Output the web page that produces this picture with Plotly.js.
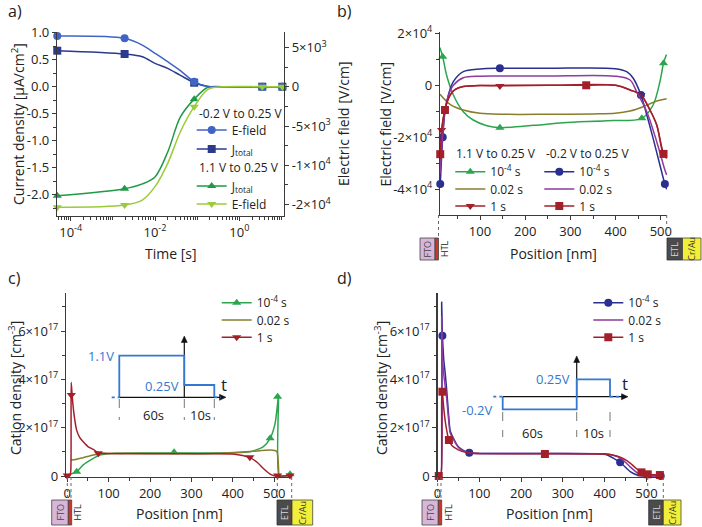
<!DOCTYPE html>
<html><head><meta charset="utf-8">
<script src="https://cdn.plot.ly/plotly-3.0.1.min.js"></script>
<style>html,body{margin:0;padding:0;background:#fff}</style>
</head><body><div id="chart" style="width:702px;height:527px"></div>
<script>
// ================= DATA =================
// ---- panel a: transients vs time ----
const aTime = [4.8e-5, 1.9e-3, 5e-3, 0.01, 0.02, 0.04, 0.085, 0.18, 0.4, 3.5, 11];
const aBlueEfield = [6450, 6160, 5300, 4250, 3180, 2050, 640, 30, 0, 0, 0];        // V/cm, -0.2V->0.25V
const aBlueJ = [0.667, 0.606, 0.556, 0.433, 0.34, 0.21, 0.074, 0.005, 0, 0, 0];      // uA/cm2
const aGreenJ = [-2.02, -1.89, -1.80, -1.67, -1.21, -0.56, -0.23, -0.01, 0, 0, 0];   // uA/cm2, 1.1V->0.25V
const aGreenEfield = [-15350, -15050, -14420, -12720, -9750, -5730, -2545, -330, 0, 0, 0];
const aMarkTime = [4.8e-5, 1.9e-3, 0.085, 3.5, 10.5];
const aBlueEfieldMk = [6450, 6160, 640, 0, 0];
const aBlueJMk = [0.667, 0.606, 0.074, 0, 0];
const aGreenJMk = [-2.02, -1.89, -0.23, 0, 0];
const aGreenEfieldMk = [-15350, -15050, -2545, 0, 0];
const aXTickVals = [1e-4, 1e-2, 1];
const aXTickText = ['10<sup>-4</sup>', '10<sup>-2</sup>', '10<sup>0</sup>'];
const aYTickVals = [-2, -1.5, -1, -0.5, 0, 0.5, 1];
const aYTickText = ['-2.0', '-1.5', '-1.0', '-0.5', '0.0', '0.5', '1.0'];
const aY2TickVals = [5000, 0, -5000, -10000, -15000];
const aY2TickText = ['5×10<sup>3</sup>', '0', '-5×10<sup>3</sup>', '-1×10<sup>4</sup>', '-2×10<sup>4</sup>'];

// ---- panel b: electric field profiles ----
const bGreenX = [11.5, 13, 17.5, 26, 41, 63, 85, 115, 144, 220, 284, 380, 458, 483, 498, 506, 512.5];
const bGreenY = [14500, 13600, 11000, 3960, -3730, -10150, -13350, -15540, -16300, -15400, -14400, -13600, -12700, -7580, 1380, 8500, 11800];
const bGreenMkX = [17.5, 144, 458, 506];
const bGreenMkY = [11000, -16300, -12700, 8500];
const bOliveX = [11.5, 33.6, 63, 100, 150, 250, 350, 399, 432, 461, 491, 513];
const bOliveY = [-3460, -7300, -9500, -10770, -11150, -11150, -11000, -10770, -9880, -8230, -6040, -5200];
const bRedTX = [11.5, 13, 15, 20, 25, 34, 45, 63, 100, 144, 250, 400, 432, 456, 476, 491, 505, 512.5];
const bRedTY = [-30000, -25000, -17200, -11500, -7500, -3800, -1600, -500, -100, -200, 0, 0, -1800, -3730, -9500, -15300, -26150, -27800];
const bRedTMkX = [15, 144, 456];
const bRedTMkY = [-17200, -270, -3730];
const bBlueX = [11.5, 12, 17.5, 22.5, 30, 41, 63, 100, 144, 250, 399, 424.5, 439, 456, 469, 483, 498, 509, 513];
const bBlueY = [-39000, -38000, -20000, -10150, -3730, 1380, 5230, 6270, 6540, 6540, 6400, 5230, 2690, -3730, -11420, -20400, -30650, -38000, -40000];
const bBlueMkX = [12, 17.5, 144, 456, 509];
const bBlueMkY = [-38000, -20000, 6540, -3730, -38000];
const bPurpleX = [11.5, 17.5, 22.5, 30, 41, 63, 100, 144, 250, 399, 432, 446.5, 469, 491, 509, 513];
const bPurpleY = [-34000, -19000, -10000, -4000, 0, 2900, 3500, 3580, 3580, 3500, 2040, -2460, -10150, -21700, -32600, -34500];
const bRedSX = [11.5, 12, 15, 18, 22.5, 28, 35, 45, 63, 100, 200, 335, 400, 432, 456, 476, 491, 506, 513];
const bRedSY = [-28500, -26500, -19000, -13500, -9500, -6000, -3500, -1700, -500, -100, 0, 0, 0, -1800, -3730, -9500, -15300, -26400, -28200];
const bRedSMkX = [12, 22.5, 335, 506];
const bRedSMkY = [-26500, -9500, 0, -26400];
const bXTickVals = [100, 200, 300, 400, 500];
const bYTickVals = [-40000, -20000, 0, 20000];
const bYTickText = ['-4×10<sup>4</sup>', '-2×10<sup>4</sup>', '0', '2×10<sup>4</sup>'];

// ---- panel c: cation density, 1.1V -> 0.25V (units of 1e17 cm^-3) ----
const cGreenX = [-1, 5, 12, 22.7, 38.6, 60, 79, 119, 200, 300, 400, 441, 473, 490, 502, 508, 510.5, 511.5, 525, 538];
const cGreenY = [0.05, 0.06, 0.1, 0.18, 0.46, 0.7, 0.87, 0.94, 0.95, 0.95, 0.96, 1.0, 1.21, 1.56, 2.18, 3.0, 3.38, 0.0, 0.0, 0.04];
const cGreenMkX = [22.7, 258, 490, 508, 538];
const cGreenMkY = [0.18, 0.98, 1.56, 3.28, 0.07];
const cOliveX = [9, 20, 38.6, 63, 90, 150, 250, 350, 441, 490, 506, 509.5, 511];
const cOliveY = [0.66, 0.68, 0.76, 0.87, 0.93, 0.94, 0.93, 0.93, 1.01, 1.08, 1.02, 0.6, 0.0];
const cRedX = [0, 6, 8.5, 9.5, 12, 16, 22.7, 30, 38.6, 50, 63, 75, 100, 200, 300, 400, 441, 460, 473, 490, 500, 508, 520, 538];
const cRedY = [0.0, 0.0, 0.2, 3.88, 3.3, 2.6, 1.9, 1.6, 1.42, 1.22, 1.1, 0.96, 0.93, 0.92, 0.92, 0.91, 0.76, 0.55, 0.32, 0.08, 0.01, 0.0, 0.0, 0.02];
const cRedMkX = [0, 9.8, 75, 441, 508, 538];
const cRedMkY = [0.02, 3.35, 0.94, 0.78, 0.02, 0.02];

// ---- panel d: cation density, -0.2V -> 0.25V (units of 1e17 cm^-3) ----
const dBlueX = [3, 8.5, 10, 11.7, 15, 18.5, 22, 30, 40, 50, 63, 76, 100, 200, 300, 380, 406, 437, 461, 477, 490, 510, 534];
const dBlueY = [0, 0, 7.2, 5.81, 4.8, 4.25, 3.56, 1.9, 1.5, 1.21, 1.05, 0.96, 0.93, 0.93, 0.93, 0.92, 0.87, 0.57, 0.18, 0.04, 0, 0, 0];
const dBlueMkX = [11.7, 76, 437, 534];
const dBlueMkY = [5.81, 0.96, 0.57, 0.0];
const dPurpleX = [3, 8.5, 10, 11.7, 15, 22, 30, 40, 50, 63, 76, 100, 300, 400, 420, 440, 461, 480, 495, 510, 534];
const dPurpleY = [0, 0, 6.6, 5.0, 4.2, 3.2, 1.8, 1.45, 1.18, 1.03, 0.95, 0.93, 0.93, 0.92, 0.86, 0.72, 0.38, 0.1, 0.01, 0, 0];
const dRedX = [3, 8.5, 10, 11.7, 15, 20, 27.3, 35, 50, 63, 76, 100, 257, 400, 429, 445, 461, 475, 488, 503, 520, 532];
const dRedY = [0, 0, 3.6, 3.49, 2.8, 2.1, 1.49, 1.25, 1.08, 1.0, 0.95, 0.93, 0.92, 0.91, 0.83, 0.72, 0.53, 0.32, 0.15, 0.07, 0.05, 0.04];
const dRedMkX = [3, 11.7, 27.3, 257, 488, 503, 532];
const dRedMkY = [0, 3.49, 1.49, 0.91, 0.15, 0.07, 0.04];

const posTickVals = [0, 100, 200, 300, 400, 500];
const denTickVals = [0, 2, 4, 6];
const denTickText = ['0', '2×10<sup>17</sup>', '4×10<sup>17</sup>', '6×10<sup>17</sup>'];

// ================= STYLE / LAYOUT =================
const W = 702, H = 527;
const px = v => v / W;
const py = v => 1 - v / H;
const FONT = 'Open Sans, Noto Sans, DejaVu Sans, sans-serif';
const TXT = '#222';
const COL = {blueE:'#4064c6', navy:'#2c3a8e', green:'#1f9a47', lime:'#9ccb3a',
             green2:'#2ca54e', olive:'#8a7d2c', red:'#a3202b', blue:'#2b2f8f', purple:'#8e3a9e',
             inset:'#3478d0'};

const legends = {};
let legCount = 0;
function legendAt(x, y) {
  legCount += 1;
  const key = legCount === 1 ? 'legend' : 'legend' + legCount;
  legends[key] = {x:px(x), y:py(y), xanchor:'left', yanchor:'middle', bgcolor:'rgba(0,0,0,0)', borderwidth:0,
    font:{size:12, family:FONT, color:TXT}, tracegroupgap:0, itemwidth:30};
  return key;
}

const traces = [];
function series(o) {
  const line = {color:o.color, width:1.5, shape:'spline', smoothing:o.smooth ?? 0.9};
  traces.push({type:'scatter', x:o.cx, y:o.cy, xaxis:o.xa, yaxis:o.ya, mode:'lines',
    line:line, showlegend:false, hoverinfo:'skip'});
  if (o.symbol && o.mx) traces.push({type:'scatter', x:o.mx, y:o.my, xaxis:o.xa, yaxis:o.ya,
    mode:'markers', marker:{symbol:o.symbol, size:8, color:o.color}, cliponaxis:false,
    showlegend:false, hoverinfo:'skip'});
  const leg = {type:'scatter', x:[null], y:[null], xaxis:o.xa, yaxis:o.ya,
    mode:o.symbol ? 'lines+markers' : 'lines', line:{color:o.color, width:1.5},
    name:o.name, legend:legendAt(o.lx - 5, o.ly), showlegend:true, hoverinfo:'skip'};
  if (o.symbol) leg.marker = {symbol:o.symbol, size:8, color:o.color};
  traces.push(leg);
}

// panel a
series({xa:'x', ya:'y2', cx:aTime, cy:aBlueEfield, mx:aMarkTime, my:aBlueEfieldMk, color:COL.blueE, symbol:'circle',
  name:'E-field', lx:196.7, ly:130});
series({xa:'x', ya:'y', cx:aTime, cy:aBlueJ, mx:aMarkTime, my:aBlueJMk, color:COL.navy, symbol:'square',
  name:'J<sub>total</sub>', lx:196.7, ly:149});
series({xa:'x', ya:'y', cx:aTime, cy:aGreenJ, mx:aMarkTime, my:aGreenJMk, color:COL.green, symbol:'triangle-up',
  name:'J<sub>total</sub>', lx:196.7, ly:186});
series({xa:'x', ya:'y2', cx:aTime, cy:aGreenEfield, mx:aMarkTime, my:aGreenEfieldMk, color:COL.lime, symbol:'triangle-down',
  name:'E-field', lx:196.7, ly:204});

// panel b
series({xa:'x2', ya:'y3', cx:bGreenX, cy:bGreenY, mx:bGreenMkX, my:bGreenMkY, color:COL.green2, symbol:'triangle-up',
  name:'10<sup>-4</sup> s', lx:455.3, ly:171.7});
series({xa:'x2', ya:'y3', cx:bOliveX, cy:bOliveY, color:COL.olive, name:'0.02 s', lx:455.3, ly:189});
series({xa:'x2', ya:'y3', cx:bRedTX, cy:bRedTY, mx:bRedTMkX, my:bRedTMkY, color:COL.red, symbol:'triangle-down',
  name:'1 s', lx:455.3, ly:206});
series({xa:'x2', ya:'y3', cx:bBlueX, cy:bBlueY, mx:bBlueMkX, my:bBlueMkY, color:COL.blue, symbol:'circle',
  name:'10<sup>-4</sup> s', lx:544.3, ly:171.7});
series({xa:'x2', ya:'y3', cx:bPurpleX, cy:bPurpleY, color:COL.purple, name:'0.02 s', lx:544.3, ly:189});
series({xa:'x2', ya:'y3', cx:bRedSX, cy:bRedSY, mx:bRedSMkX, my:bRedSMkY, color:COL.red, symbol:'square',
  name:'1 s', lx:544.3, ly:206});

// panel c
series({xa:'x3', ya:'y4', cx:cGreenX, cy:cGreenY, mx:cGreenMkX, my:cGreenMkY, color:COL.green2, symbol:'triangle-up',
  name:'10<sup>-4</sup> s', lx:221.7, ly:302.7, smooth:0.6});
series({xa:'x3', ya:'y4', cx:cOliveX, cy:cOliveY, color:COL.olive, name:'0.02 s', lx:221.7, ly:320, smooth:0.6});
series({xa:'x3', ya:'y4', cx:cRedX, cy:cRedY, mx:cRedMkX, my:cRedMkY, color:COL.red, symbol:'triangle-down',
  name:'1 s', lx:221.7, ly:337.3, smooth:0.6});

// panel d
series({xa:'x4', ya:'y5', cx:dBlueX, cy:dBlueY, mx:dBlueMkX, my:dBlueMkY, color:COL.blue, symbol:'circle',
  name:'10<sup>-4</sup> s', lx:593.3, ly:302.7, smooth:0.3});
series({xa:'x4', ya:'y5', cx:dPurpleX, cy:dPurpleY, color:COL.purple, name:'0.02 s', lx:593.3, ly:320, smooth:0.3});
series({xa:'x4', ya:'y5', cx:dRedX, cy:dRedY, mx:dRedMkX, my:dRedMkY, color:COL.red, symbol:'square',
  name:'1 s', lx:593.3, ly:337.3, smooth:0.3});

const AXC = '#3a3a3a';
const axBase = {showline:true, linecolor:AXC, linewidth:1.1, ticks:'outside', ticklen:4, tickcolor:AXC,
  tickwidth:1, tickfont:{size:13, color:TXT, family:FONT}, showgrid:false, zeroline:false, fixedrange:true};
const minorLin = d => ({dtick:d, tick0:0, ticks:'outside', ticklen:2.5, tickcolor:AXC, tickwidth:1, showgrid:false});

const shapes = [];
const annotations = [];
function txt(x, y, text, o = {}) {
  annotations.push({xref:'paper', yref:'paper', x:px(x), y:py(y), text:text, showarrow:false,
    font:{size:o.size || 14, family:FONT, color:o.color || TXT}, xanchor:o.xa || 'center', yanchor:'middle',
    textangle:o.angle || 0});
}
function rect(x0, x1, y0, y1, fill, lc) {
  shapes.push({type:'rect', xref:'paper', yref:'paper', x0:px(x0), x1:px(x1), y0:py(y1), y1:py(y0),
    fillcolor:fill, line:{color:lc || '#333', width:0.8}});
}
function seg(x0, y0, x1, y1, color, width, dash) {
  shapes.push({type:'line', xref:'paper', yref:'paper', x0:px(x0), y0:py(y0), x1:px(x1), y1:py(y1),
    line:{color:color, width:width, dash:dash || 'solid'}});
}
function pathOf(pts, close) {
  return pts.map((p, i) => (i ? 'L' : 'M') + px(p[0]).toFixed(5) + ',' + py(p[1]).toFixed(5)).join(' ') + (close ? ' Z' : '');
}
function arrowH(x0, x1, y) {   // horizontal arrow pointing right
  seg(x0, y, x1 - 5, y, '#111', 1.2);
  shapes.push({type:'path', xref:'paper', yref:'paper', path:pathOf([[x1, y], [x1 - 6.5, y - 3], [x1 - 6.5, y + 3]], true),
    fillcolor:'#111', line:{color:'#111', width:0.5}});
}
function arrowV(x, y0, y1) {   // vertical arrow pointing up
  seg(x, y0, x, y1 + 5, '#111', 1.2);
  shapes.push({type:'path', xref:'paper', yref:'paper', path:pathOf([[x, y1], [x - 3, y1 + 6.5], [x + 3, y1 + 6.5]], true),
    fillcolor:'#111', line:{color:'#111', width:0.5}});
}
function layers(fto0, fto1, htl1, htlTxt, etl0, etl1, cr1, y0, y1) {
  rect(fto0, fto1, y0, y1, '#d8b6d9', '#444');
  rect(fto1, htl1, y0, y1, '#c8362c', '#444');
  rect(etl0, etl1, y0, y1, '#4b4b4b', '#333');
  rect(etl1, cr1, y0, y1, '#f2ef3a', '#444');
  const ym = (y0 + y1) / 2;
  txt((fto0 + fto1) / 2, ym, 'FTO', {size:9, color:'#444', angle:-90});
  txt(htlTxt, ym, 'HTL', {size:9, color:'#222', angle:-90});
  txt((etl0 + etl1) / 2, ym, 'ETL', {size:9, color:'#d8d8d8', angle:-90});
  txt((etl1 + cr1) / 2, ym, 'Cr/Au', {size:9, color:'#333', angle:-90});
}

// legend group headings
txt(196.7, 113.3, '-0.2 V to 0.25 V', {xa:'left', size:12});
txt(196.7, 167.7, '1.1 V to 0.25 V', {xa:'left', size:12});
txt(454.3, 153.3, '1.1 V to 0.25 V', {xa:'left', size:12});
txt(544.3, 153.3, '-0.2 V to 0.25 V', {xa:'left', size:12});

// panel labels
txt(15, 11, 'a)', {size:16}); txt(344, 11, 'b)', {size:16});
txt(14, 278, 'c)', {size:16}); txt(344, 278, 'd)', {size:16});

// axis titles
txt(18, 124, 'Current density [μA/cm<sup>2</sup>]', {angle:-90});
txt(343, 124, 'Electric field [V/cm]', {angle:-90});
txt(170.5, 254, 'Time [s]');
txt(384.5, 124, 'Electric field [V/cm]', {angle:-90});
txt(553, 254, 'Position [nm]');
txt(15, 388, 'Cation density [cm<sup>-3</sup>]', {angle:-90});
txt(180, 513, 'Position [nm]');
txt(381, 388, 'Cation density [cm<sup>-3</sup>]', {angle:-90});
txt(549, 513, 'Position [nm]');

// layer stacks + dotted guides
layers(420, 435, 438.5, 445, 667, 682.5, 701, 238, 260);
seg(438.5, 215, 438.5, 238, '#666', 1, 'dot');
seg(666.7, 215, 666.7, 238, '#666', 1, 'dot');
layers(51.7, 68.3, 71.7, 77, 277, 292, 312.7, 500, 525);
seg(67.3, 477, 67.3, 500, '#666', 1, 'dot'); seg(71, 477, 71, 500, '#666', 1, 'dot');
seg(277.3, 477, 277.3, 500, '#666', 1, 'dot'); seg(291.7, 477, 291.7, 500, '#666', 1, 'dot');
layers(422, 438.3, 441.7, 448, 648.7, 663.3, 681, 500, 525);
seg(437.7, 477, 437.7, 500, '#666', 1, 'dot'); seg(441, 477, 441, 500, '#666', 1, 'dot');
seg(647.7, 477, 647.7, 500, '#666', 1, 'dot'); seg(663.3, 477, 663.3, 500, '#666', 1, 'dot');

// inset c: 1.1V (60 s) -> 0.25V (10 s)
arrowH(119.3, 226, 397.3);
arrowV(184.3, 397.3, 336);
shapes.push({type:'path', xref:'paper', yref:'paper', line:{color:COL.inset, width:1.8},
  path:pathOf([[119.3,397.3],[119.3,355.7],[184.3,355.7],[184.3,385],[214.3,385],[214.3,397.3]])});
seg(111.7, 397.3, 119.3, 397.3, COL.inset, 1.8, 'dot');
seg(214.3, 397.3, 221, 397.3, COL.inset, 1.8, 'dot');
[119.3, 184.3, 214.3].forEach(x => seg(x, 399, x, 420, '#777', 1, 'dash'));
txt(116, 355.7, '1.1V', {color:COL.inset, xa:'right', size:13});
txt(181, 385.5, '0.25V', {color:COL.inset, xa:'right', size:13});
txt(219, 384, 't', {xa:'left', size:17});
txt(153, 415, '60s', {size:13}); txt(200.5, 415, '10s', {size:13});

// inset d: -0.2V (60 s) -> 0.25V (10 s)
arrowH(502.7, 628, 396.7);
arrowV(576.7, 396.7, 356);
shapes.push({type:'path', xref:'paper', yref:'paper', line:{color:COL.inset, width:1.8},
  path:pathOf([[502.7,396.7],[502.7,409.3],[576.7,409.3],[576.7,379.3],[610,379.3],[610,396.7]])});
seg(493.3, 396.7, 502.7, 396.7, COL.inset, 1.8, 'dot');
seg(610, 396.7, 620, 396.7, COL.inset, 1.8, 'dot');
[502.7, 576.7, 610].forEach(x => seg(x, 412, x, 437, '#777', 1, 'dash'));
txt(572, 379.3, '0.25V', {color:COL.inset, xa:'right', size:13});
txt(494, 410, '-0.2V', {color:COL.inset, xa:'right', size:13});
txt(620, 383, 't', {xa:'left', size:17});
txt(532, 433, '60s', {size:13}); txt(593, 433, '10s', {size:13});

const layout = Object.assign({
  width:W, height:H, margin:{l:0, r:0, t:0, b:0}, paper_bgcolor:'#fff', plot_bgcolor:'rgba(0,0,0,0)',
  font:{family:FONT, size:13, color:TXT}, showlegend:true, hovermode:false,
  xaxis: Object.assign({}, axBase, {domain:[px(57), px(284)], type:'log', range:[-4.325, 1.06], anchor:'y',
    tickmode:'array', tickvals:aXTickVals, ticktext:aXTickText,
    minor:{dtick:'D1', ticks:'outside', ticklen:2.5, tickcolor:AXC, showgrid:false}}),
  yaxis: Object.assign({}, axBase, {domain:[py(216), py(32)], range:[-2.394, 1.013], anchor:'x',
    tickmode:'array', tickvals:aYTickVals, ticktext:aYTickText, minor:minorLin(0.25)}),
  yaxis2: Object.assign({}, axBase, {overlaying:'y', side:'right', anchor:'x', range:[-16450, 6960],
    tickmode:'array', tickvals:aY2TickVals, ticktext:aY2TickText, minor:minorLin(2500)}),
  xaxis2: Object.assign({}, axBase, {domain:[px(440), px(667)], range:[11.5, 513.7], anchor:'y3',
    tickmode:'array', tickvals:bXTickVals, minor:minorLin(50)}),
  yaxis3: Object.assign({}, axBase, {domain:[py(215), py(32)], range:[-49900, 20500], anchor:'x2',
    tickmode:'array', tickvals:bYTickVals, ticktext:bYTickText, minor:minorLin(10000)}),
  xaxis3: Object.assign({}, axBase, {domain:[px(66), px(292)], range:[-3, 542.8], anchor:'y4',
    tickmode:'array', tickvals:posTickVals, minor:minorLin(50)}),
  yaxis4: Object.assign({}, axBase, {domain:[py(477), py(293)], range:[-0.0414, 7.578], anchor:'x3',
    tickmode:'array', tickvals:denTickVals, ticktext:denTickText, minor:minorLin(1)}),
  xaxis4: Object.assign({}, axBase, {domain:[px(437.5), px(663)], range:[0, 539.5], anchor:'y5',
    tickmode:'array', tickvals:posTickVals, minor:minorLin(50)}),
  yaxis5: Object.assign({}, axBase, {domain:[py(477), py(293)], range:[-0.0414, 7.578], anchor:'x4',
    tickmode:'array', tickvals:denTickVals, ticktext:denTickText, minor:minorLin(1)}),
  shapes:shapes, annotations:annotations
}, legends);

Plotly.newPlot('chart', traces, layout, {staticPlot:true, displayModeBar:false});
</script></body></html>
